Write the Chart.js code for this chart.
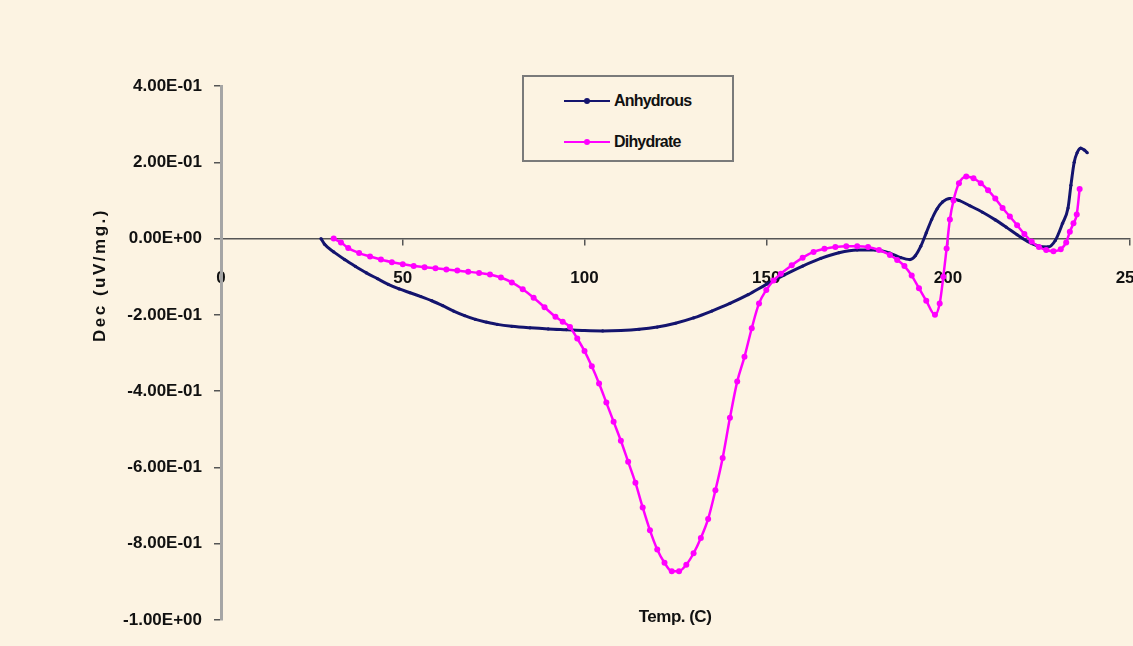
<!DOCTYPE html>
<html>
<head>
<meta charset="utf-8">
<script src="https://cdn.jsdelivr.net/npm/chart.js@4/dist/chart.umd.min.js"></script>
<style>
    html, body { margin: 0; padding: 0; overflow: hidden; background: #fcf3e2; }
    #wrap { position: relative; width: 1133px; height: 646px; overflow: hidden; }
    #legend {
        position: absolute; left: 522px; top: 75px; width: 208px; height: 83px;
        border: 2px solid #7a7a7a; background: #fcf3e2;
        font-family: 'Liberation Sans', Arial, sans-serif; font-size: 16px; font-weight: bold; color: #111;
    }
    .item { position: absolute; left: 40px; height: 20px; display: flex; align-items: center; }
    .swatch { position: relative; width: 46px; height: 2px; margin-right: 4px; }
    .swatch i { position: absolute; left: 20px; top: -2px; width: 6px; height: 6px; border-radius: 50%; }
    .label { letter-spacing: -0.8px; }
</style>
</head>
<body>
<div id="wrap">
    <canvas id="dscChart" width="1168" height="646"></canvas>
    <div id="legend"></div>
</div>
<script>
// DSC curves - Anhydrous vs Dihydrate

const xTicks = [0, 50, 100, 150, 200, 250];
const yTicks = [-1.0, -0.8, -0.6, -0.4, -0.2, 0.0, 0.2, 0.4];

const anhydrousTemp = [27.5, 28.5, 31, 34, 37, 40, 43, 46, 49, 52, 55, 58, 61, 64, 67, 70, 73, 76, 80, 85,
    90, 95, 100, 105, 110, 115, 120, 125, 130, 135, 140, 145, 150, 155, 160, 165, 170, 175, 180, 184,
    187, 189.5, 191, 192.5, 194, 195.5, 197, 198.5, 200.5, 203, 206, 209.5, 213, 216, 219, 222, 225,
    227.5, 229.5, 231.5, 233, 233.8, 234.7, 235.5, 236.5, 237.5, 238.3];
const anhydrousDec = [0, -0.015, -0.035, -0.055, -0.073, -0.09, -0.105, -0.12, -0.132, -0.142, -0.152, -0.163,
    -0.176, -0.19, -0.202, -0.212, -0.219, -0.225, -0.23, -0.234, -0.237, -0.239, -0.241, -0.242, -0.241,
    -0.238, -0.232, -0.222, -0.208, -0.19, -0.17, -0.147, -0.12, -0.095, -0.072, -0.052, -0.037, -0.03,
    -0.03, -0.038, -0.05, -0.055, -0.045, -0.02, 0.015, 0.05, 0.078, 0.096, 0.105, 0.1, 0.086, 0.069,
    0.049, 0.03, 0.01, -0.008, -0.02, -0.022, -0.005, 0.04, 0.08, 0.14, 0.2, 0.225, 0.237, 0.232, 0.225];

const dihydrateTemp = [31, 33, 35, 38, 41, 44, 47, 50, 53, 56, 59, 62, 65, 68, 71, 74, 77, 80, 83, 86, 89, 92,
    94, 96, 98, 100, 102, 104, 106, 108, 110, 112, 114, 116, 118, 120, 122, 124, 126, 128, 130, 132, 134,
    136, 138, 140, 142, 144, 146, 148, 150, 152, 154, 157, 160, 163, 166, 169, 172, 175, 178, 181, 184,
    186, 188, 190, 192, 194, 196.4, 197.7, 198.7, 199.6, 200.5, 201.5, 203, 205, 207, 209, 211, 213, 215,
    217, 219, 221, 223, 225, 227, 229, 231, 232.5, 233.5, 234.5, 235.4, 236.2];
const dihydrateDec = [0, -0.01, -0.025, -0.038, -0.047, -0.055, -0.062, -0.067, -0.072, -0.075, -0.078,
    -0.081, -0.084, -0.087, -0.09, -0.094, -0.102, -0.115, -0.133, -0.155, -0.18, -0.205, -0.218, -0.232,
    -0.262, -0.295, -0.335, -0.38, -0.43, -0.48, -0.53, -0.585, -0.64, -0.705, -0.765, -0.815, -0.85,
    -0.872, -0.872, -0.855, -0.825, -0.785, -0.735, -0.66, -0.575, -0.47, -0.375, -0.31, -0.235, -0.17,
    -0.135, -0.11, -0.092, -0.07, -0.05, -0.035, -0.027, -0.022, -0.02, -0.02, -0.022, -0.03, -0.043,
    -0.056, -0.072, -0.097, -0.13, -0.163, -0.2, -0.17, -0.1, -0.026, 0.05, 0.1, 0.145, 0.163, 0.158,
    0.145, 0.127, 0.105, 0.08, 0.058, 0.035, 0.012, -0.008, -0.022, -0.03, -0.033, -0.028, -0.01, 0.018,
    0.04, 0.063, 0.13];

const seriesNames = ['Anhydrous', 'Dihydrate'];
const seriesColors = ['#14146e', '#ff00ff'];

function toPoints(xs, ys) {
    return xs.map((x, i) => ({ x: x, y: ys[i] }));
}

// Excel style scientific labels: 4.00E-01
function sci(v) {
    if (Math.abs(v) < 1e-9) return '0.00E+00';
    const e = Math.floor(Math.log10(Math.abs(v)) + 1e-9);
    const m = (v / Math.pow(10, e)).toFixed(2);
    return m + 'E' + (e < 0 ? '-' : '+') + String(Math.abs(e)).padStart(2, '0');
}

const axisTitles = {
    id: 'axisTitles',
    afterDraw(chart) {
        const ctx = chart.ctx;
        ctx.save();
        ctx.fillStyle = '#111';
        ctx.textAlign = 'center';
        ctx.textBaseline = 'middle';
        ctx.font = 'bold 17px "Liberation Sans", Arial, sans-serif';
        ctx.letterSpacing = '-0.5px';
        ctx.fillText('Temp. (C)', 675, 617);
        ctx.translate(100, 275);
        ctx.rotate(-Math.PI / 2);
        ctx.font = 'bold 17px "Liberation Sans", Arial, sans-serif';
        ctx.letterSpacing = '2.5px';
        ctx.fillText('Dec (uV/mg.)', 0, 0);
        ctx.restore();
    }
};

Chart.defaults.font.family = "'Liberation Sans', Arial, sans-serif";
Chart.defaults.color = '#111';

const chart = new Chart(document.getElementById('dscChart'), {
    type: 'line',
    data: {
        datasets: [
            {
                label: seriesNames[0],
                data: toPoints(anhydrousTemp, anhydrousDec),
                borderColor: seriesColors[0],
                backgroundColor: seriesColors[0],
                borderWidth: 3,
                pointRadius: 1.6,
                pointBorderWidth: 0,
                cubicInterpolationMode: 'monotone',
                order: 1
            },
            {
                label: seriesNames[1],
                data: toPoints(dihydrateTemp, dihydrateDec),
                borderColor: seriesColors[1],
                backgroundColor: seriesColors[1],
                borderWidth: 2.5,
                pointRadius: 3,
                pointBorderWidth: 0,
                cubicInterpolationMode: 'monotone',
                order: 0
            }
        ]
    },
    options: {
        responsive: false,
        animation: false,
        layout: { padding: { top: 86, bottom: 26, left: 0, right: 22 } },
        plugins: {
            legend: { display: false },
            tooltip: { enabled: false }
        },
        scales: {
            x: {
                type: 'linear',
                position: { y: 0 },
                min: 0,
                max: 250,
                afterBuildTicks: (scale) => { scale.ticks = xTicks.map(v => ({ value: v })); },
                ticks: { padding: 24, font: { size: 17, weight: 'bold' }, color: '#111', maxRotation: 0 },
                grid: { drawOnChartArea: false, tickLength: 6, color: '#555', lineWidth: 1.5 },
                border: { color: '#555', width: 1.5 }
            },
            y: {
                type: 'linear',
                min: -1,
                max: 0.4,
                afterFit: (scale) => { scale.width = 221; },
                afterBuildTicks: (scale) => { scale.ticks = yTicks.map(v => ({ value: v })); },
                ticks: { padding: 12, font: { size: 17, weight: 'bold' }, color: '#111', callback: (v) => sci(v) },
                grid: { drawOnChartArea: false, tickLength: 7, color: '#555', lineWidth: 1.5 },
                border: { color: '#a5a5a5', width: 3 }
            }
        }
    },
    plugins: [axisTitles]
});

// HTML legend
const legend = document.getElementById('legend');
seriesNames.forEach((name, i) => {
    const item = document.createElement('div');
    item.className = 'item';
    item.style.top = (i === 0 ? 14 : 55) + 'px';
    item.innerHTML = `<span class="swatch" style="background:${seriesColors[i]}"><i style="background:${seriesColors[i]}"></i></span><span class="label">${name}</span>`;
    legend.appendChild(item);
});
</script>
</body>
</html>
